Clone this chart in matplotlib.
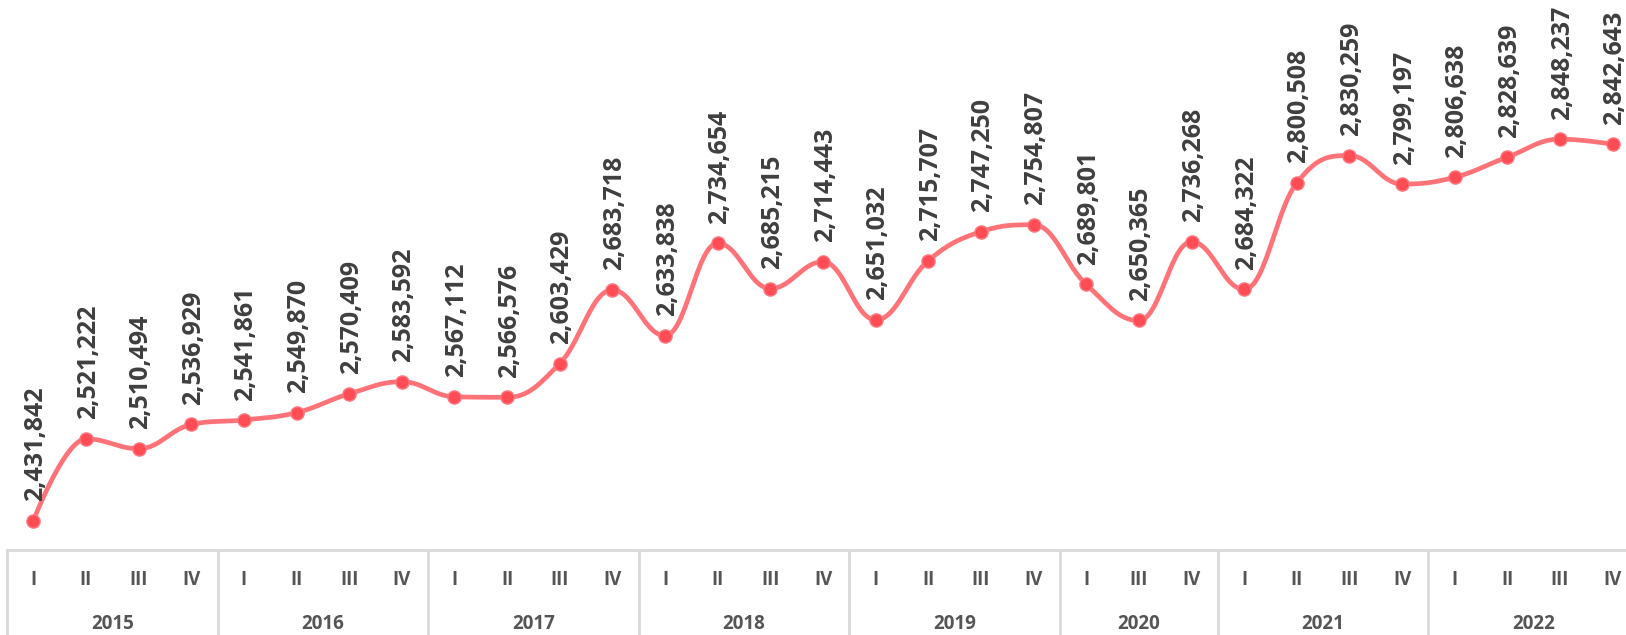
import numpy as np
import matplotlib
matplotlib.use("Agg")
import matplotlib.pyplot as plt

# quarterly values, 2015-2022 (2020 has no Q-II)
years = ["2015", "2016", "2017", "2018", "2019", "2020", "2021", "2022"]
quarters = [
    ["I", "II", "III", "IV"],
    ["I", "II", "III", "IV"],
    ["I", "II", "III", "IV"],
    ["I", "II", "III", "IV"],
    ["I", "II", "III", "IV"],
    ["I", "III", "IV"],
    ["I", "II", "III", "IV"],
    ["I", "II", "III", "IV"],
]
values = [
    2431842, 2521222, 2510494, 2536929,
    2541861, 2549870, 2570409, 2583592,
    2567112, 2566576, 2603429, 2683718,
    2633838, 2734654, 2685215, 2714443,
    2651032, 2715707, 2747250, 2754807,
    2689801, 2650365, 2736268,
    2684322, 2800508, 2830259, 2799197,
    2806638, 2828639, 2848237, 2842643,
]

LINE = "#ff7378"
DOT = "#ff4c55"
TXT = "#3f3f3f"
GRID = "#d9d9d9"
FONT = ["Open Sans", "DejaVu Sans"]


def spline_path(x, y, smoothing=1.5, n=30):
    # Highcharts-like spline through the points
    x = np.asarray(x, float)
    y = np.asarray(y, float)
    denom = smoothing + 1
    m = len(x)
    lc = np.column_stack([x, y]).copy()
    rc = np.column_stack([x, y]).copy()
    for i in range(1, m - 1):
        lx = (smoothing * x[i] + x[i - 1]) / denom
        ly = (smoothing * y[i] + y[i - 1]) / denom
        rx = (smoothing * x[i] + x[i + 1]) / denom
        ry = (smoothing * y[i] + y[i + 1]) / denom
        corr = ((ry - ly) * (rx - x[i])) / (rx - lx) + y[i] - ry
        ly += corr
        ry += corr
        if ly > y[i - 1] and ly > y[i]:
            ly = max(y[i - 1], y[i])
            ry = 2 * y[i] - ly
        elif ly < y[i - 1] and ly < y[i]:
            ly = min(y[i - 1], y[i])
            ry = 2 * y[i] - ly
        if ry > y[i + 1] and ry > y[i]:
            ry = max(y[i + 1], y[i])
            ly = 2 * y[i] - ry
        elif ry < y[i + 1] and ry < y[i]:
            ry = min(y[i + 1], y[i])
            ly = 2 * y[i] - ry
        lc[i] = (lx, ly)
        rc[i] = (rx, ry)
    t = np.linspace(0, 1, n)[:, None]
    pts = []
    for i in range(m - 1):
        p0 = np.array([x[i], y[i]])
        p3 = np.array([x[i + 1], y[i + 1]])
        p1 = rc[i]
        p2 = lc[i + 1]
        seg = ((1 - t) ** 3) * p0 + 3 * ((1 - t) ** 2) * t * p1 + 3 * (1 - t) * t ** 2 * p2 + t ** 3 * p3
        pts.append(seg if i == 0 else seg[1:])
    pts = np.vstack(pts)
    return pts[:, 0], pts[:, 1]


W, H = 1626, 635
fig = plt.figure(figsize=(W / 100, H / 100), dpi=100)

left = 7 / W
width = (1639 - 7) / W
axis_y = 550
ax = fig.add_axes([left, (H - axis_y) / H, width, axis_y / H])
ax2 = fig.add_axes([left, 0, width, (H - axis_y) / H])

xs = np.arange(len(values))
sx, sy = spline_path(xs, values)
ax.plot(sx, sy, color=LINE, lw=3.4, solid_capstyle="round", zorder=2)
ax.plot(xs, values, "o", ms=9.5, color=DOT, mec="#ff7a80", mew=1, zorder=3)

for xi, v in zip(xs, values):
    ax.annotate(f"{v:,}", (xi, v), xytext=(1.5, 14), textcoords="offset points",
                rotation=90, ha="center", va="bottom", fontsize=18,
                fontweight="bold", color=TXT, family=FONT, annotation_clip=False)

ax.set_xlim(-0.5, len(values) - 0.5)
ax.set_ylim(2400000, 3000000)
ax.axis("off")

# two-level category axis
ax2.set_xlim(-0.5, len(values) - 0.5)
ax2.set_ylim(0, 1)
for s in ["right", "bottom"]:
    ax2.spines[s].set_visible(False)
for s in ["top", "left"]:
    ax2.spines[s].set_color(GRID)
    ax2.spines[s].set_linewidth(2)
ax2.set_xticks([])
ax2.set_yticks([])

pos = 0
for yr, qs in zip(years, quarters):
    for j, q in enumerate(qs):
        ax2.text(pos + j, 0.645, q, ha="center", va="center", fontsize=13.5,
                 fontweight="bold", color="#555555", family=FONT)
    ax2.text(pos + (len(qs) - 1) / 2, 0.13, yr, ha="center", va="center",
             fontsize=13.5, fontweight="bold", color="#555555", family=FONT)
    pos += len(qs)
    if pos < len(values):
        ax2.axvline(pos - 0.5, color=GRID, lw=2)

fig.savefig("out.png", dpi=100)
